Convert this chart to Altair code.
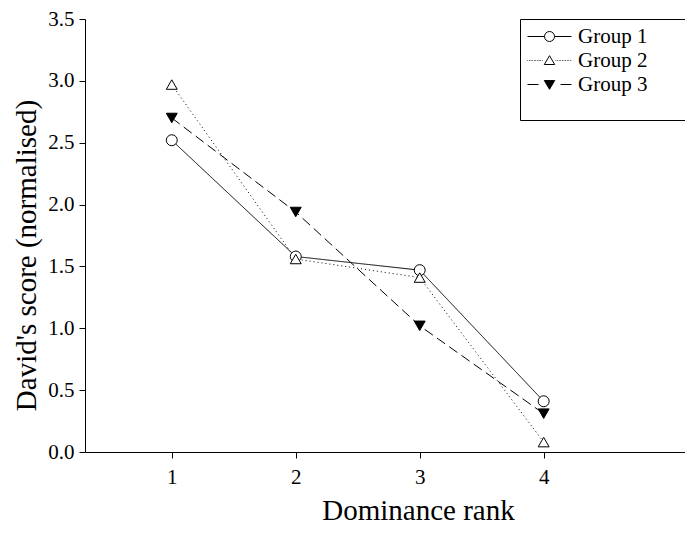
import altair as alt
import pandas as pd

ranks = [1, 2, 3, 4]
groups = ["Group 1", "Group 2", "Group 3"]
group1 = [2.52, 1.58, 1.47, 0.41]
group2 = [2.97, 1.56, 1.41, 0.08]
group3 = [2.70, 1.94, 1.02, 0.31]
y_ticks = [0.0, 0.5, 1.0, 1.5, 2.0, 2.5, 3.0, 3.5]

rows = []
for g, vals in zip(groups, [group1, group2, group3]):
    for r, v in zip(ranks, vals):
        rows.append({"rank": r, "score": v, "group": g})
df = pd.DataFrame(rows)

FONT = "Liberation Serif"
PAD = "\u00a0" * 7 + "\u200b"


def dotted(a, b, step=0.16, dot=0.06):
    s = ""
    x = a
    while x < b - 1e-9:
        s += f"M{x:.3f},0H{min(x + dot, b):.3f}"
        x += step
    return s


circle = "M0.5,0A0.5,0.5 0 1 1 -0.5,0A0.5,0.5 0 1 1 0.5,0Z"
tri_up = "M0,-0.48L0.52,0.4L-0.52,0.4Z"
tri_down = "M0,0.48L0.52,-0.4L-0.52,-0.4Z"
legend_paths = [
    "M-2.2,0H-0.5M0.5,0H2.2" + circle,
    dotted(-2.2, -0.6) + dotted(0.62, 2.24) + tri_up,
    "M-2.2,0H-1.1M1.1,0H2.2" + tri_down,
]

x = alt.X("rank:Q", scale=alt.Scale(domain=[0.3, 5.14], nice=False, zero=False),
          axis=alt.Axis(values=ranks, format="d", title="Dominance rank", grid=False,
                        tickSize=6, labelPadding=8, titlePadding=9, titleX=333,
                        domainColor="black", tickColor="black"))
y = alt.Y("score:Q", scale=alt.Scale(domain=[0, 3.5], nice=False),
          axis=alt.Axis(values=y_ticks, format=".1f", title="David's score (normalised)",
                        grid=False, tickSize=6, labelPadding=5, titlePadding=6, titleY=236,
                        domainColor="black", tickColor="black"))

lines = alt.Chart(df).mark_line(color="black", strokeWidth=1).encode(
    x=x, y=y,
    strokeDash=alt.StrokeDash("group:N", scale=alt.Scale(domain=groups, range=[[1, 0], [1, 3], [10, 5]]), legend=None),
)

points = alt.Chart(df).mark_point(filled=True, size=120, stroke="black", strokeWidth=1, opacity=1).encode(
    x=x, y=y,
    shape=alt.Shape("group:N", scale=alt.Scale(domain=groups, range=["circle", "triangle-up", "triangle-down"]), legend=None),
    fill=alt.Fill("group:N", scale=alt.Scale(domain=groups, range=["white", "white", "black"]), legend=None),
)

leg = alt.Legend(title=" ", titleOrient="bottom", titleFontSize=14, titlePadding=4,
                 orient="none", legendX=435, legendY=0, strokeColor="black",
                 padding=7, labelFont=FONT, labelFontSize=21, labelColor="black",
                 labelExpr="datum.label + '" + PAD + "'",
                 symbolSize=400, symbolOpacity=1, symbolOffset=12,
                 symbolStrokeWidth=1, rowPadding=2, labelOffset=18)
legend_layer = alt.Chart(df).transform_filter("false").mark_point(
    filled=True, size=400, strokeWidth=1, opacity=1).encode(
    shape=alt.Shape("group:N", scale=alt.Scale(domain=groups, range=legend_paths), legend=leg),
    fill=alt.Fill("group:N", scale=alt.Scale(domain=groups, range=["white", "white", "black"]), legend=leg),
    stroke=alt.Stroke("group:N", scale=alt.Scale(domain=groups, range=["black", "black", "black"]), legend=leg),
)

chart = alt.layer(lines, points, legend_layer).resolve_scale(
    shape="independent", fill="independent", stroke="independent"
).properties(
    width=600, height=433,
    autosize=alt.AutoSizeParams(type="none"),
    padding={"left": 77, "top": 11, "right": 0, "bottom": 74},
).configure_view(stroke=None).configure_axis(
    labelFont=FONT, labelFontSize=21, labelColor="black", titleFont=FONT,
    titleFontSize=29, titleFontWeight="normal", titleColor="black",
)

chart.save("out.html", embed_options={"renderer": "svg", "actions": False})
